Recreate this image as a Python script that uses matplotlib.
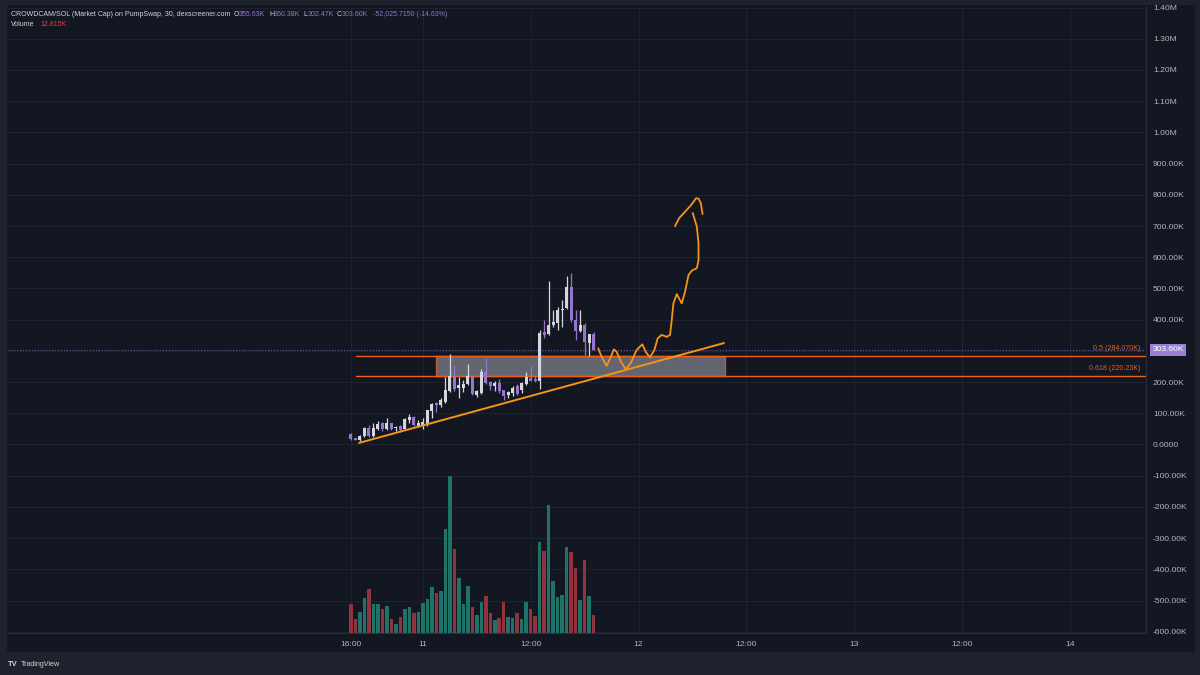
import matplotlib
matplotlib.use('Agg')
from matplotlib import pyplot as plt
from matplotlib.patches import Rectangle
import matplotlib.transforms as mtransforms
import numpy as np

plt.rcParams['font.family'] = ['Liberation Sans', 'DejaVu Sans']

# 30 min candles from 16:00 (day 10), market cap in K
opens = [34, 20, 15, 27, 52, 27, 49, 68, 49, 68, 52, 59, 49, 78, 89, 59, 62, 66, 108, 132,
         127, 137, 172, 217, 180, 182, 194, 219, 159, 166, 231, 201, 187, 198, 175, 159, 164, 187, 175, 194,
         214, 211, 204, 360, 353, 384, 389, 430, 436, 505, 398, 364, 384, 326, 355.63]
highs = [36, 21, 32, 55, 62, 68, 75, 73, 86, 70, 59, 61, 84, 98, 92, 79, 84, 112, 132, 137,
         148, 215, 290, 255, 215, 208, 257, 221, 176, 242, 276, 202, 202, 209, 175, 172, 186, 194, 201, 231,
         252, 219, 366, 400, 523, 432, 441, 464, 540, 551, 430, 432, 388, 355, 360.38]
lows = [15, 13, 12, 25, 23, 23, 47, 42, 47, 48, 44, 40, 47, 70, 59, 55, 49, 59, 84, 105,
        121, 132, 168, 172, 148, 167, 190, 158, 152, 162, 195, 175, 172, 165, 143, 148, 155, 159, 166, 190,
        203, 199, 177, 342, 350, 377, 367, 377, 433, 393, 336, 360, 286, 282, 302.47]
closes = [18, 15, 28, 52, 27, 52, 66, 49, 68, 50, 57, 46, 82, 87, 61, 68, 73, 110, 130, 127,
          143, 175, 219, 177, 190, 193, 219, 161, 170, 231, 198, 188, 198, 172, 156, 167, 180, 162, 198, 217,
          204, 204, 357, 352, 384, 393, 432, 435, 505, 398, 364, 382, 328, 353, 303.60]
volumes = [21.3, 10.4, 15.2, 25.6, 32.1, 20.8, 21.3, 17.2, 19.8, 10.1, 6.8, 11.8, 17.4, 19.1, 14.5,
           15.5, 21.7, 24.9, 33.6, 28.8, 30.7, 75.6, 113.8, 60.9, 40.1, 20.8, 34.1, 18.6, 12.8, 22.5,
           26.6, 14.7, 9.7, 10.6, 22.5, 11.6, 11.1, 14.7, 10.1, 22.5, 17.2, 12.6, 66.2, 59.4, 92.5,
           37.9, 26.1, 27.8, 62.1, 59.0, 47.4, 23.9, 53.2, 26.6, 12.815]

price_ticks = list(range(-600, 1001, 100)) + [1100, 1200, 1300, 1400]
price_labels = ['%.2fK' % v if v != 0 else '0.0000' for v in range(-600, 1001, 100)]
price_labels[-1] = '1.00M'
price_labels += ['1.10M', '1.20M', '1.30M', '1.40M']
time_ticks = [0, 16, 40, 64, 88, 112, 136, 160]
time_labels = ['16:00', '11', '12:00', '12', '12:00', '13', '12:00', '14']

fib_levels = [284.07, 220.23]
fib_labels = ['0.5 (284.070K)', '0.618 (220.23K)']
zone_x = [18.96, 83.2]
trend_x = [1.8, 83.0]
trend_y = [5, 325]
# hand drawn path (bar index, K)
path_x = [55.03, 55.77, 56.88, 57.84, 58.51, 59.11, 60.07, 61.19, 62.30, 63.57, 64.84, 65.58,
          66.54, 67.52, 68.25, 69.14, 70.26, 71.00, 71.38, 71.75, 72.50, 73.61, 74.35, 75.11,
          75.84, 76.96, 77.34, 77.34, 76.96, 76.07]
path_y = [308, 281, 252, 281, 305, 297, 265, 241, 262, 303, 321, 297, 279, 303, 340, 351, 345,
          351, 399, 452, 482, 452, 490, 543, 557, 565, 591, 645, 698, 741]
head_x = [72.12, 73.01, 74.35, 75.69, 76.80, 77.34, 77.85, 78.23]
head_y = [700, 725, 746, 767, 789, 788, 773, 739]

bg = '#131722'
outer = '#1e222d'
up_col = '#d6d7de'
dn_col = '#9575cd'
vol_up = '#1f7267'
vol_dn = '#93323f'
fib_col = '#e8601c'
draw_col = '#f7931a'
txt_col = '#b2b5be'

W, H = 1200, 675
fig = plt.figure(figsize=(12, 6.75), dpi=100, facecolor=outer)
fig.patches.append(Rectangle((7 / W, (H - 652) / H), (1195 - 7) / W, (652 - 5) / H,
                             transform=fig.transFigure, fc=bg, ec='none', zorder=-5))

ax = fig.add_axes([8 / W, (H - 633) / H, (1146 - 8) / W, (633 - 6) / H])
ax.set_facecolor(bg)
ax.set_xlim(-76.3, 176.9)
ax.set_ylim(-604, 1405)

n = len(opens)
idx = np.arange(n)
o = np.array(opens); c = np.array(closes); h = np.array(highs); l = np.array(lows)
cols = [up_col if c[i] >= o[i] else dn_col for i in range(n)]

# volume overlay (twin created first, it flips the main ticks to the left)
axv = ax.twinx()
axv.set_ylim(0, 454.4)
axv.bar(idx, volumes, width=0.78,
        color=[vol_up if c[i] >= o[i] else vol_dn for i in range(n)], zorder=2)
axv.set_yticks([])
for s in axv.spines.values():
    s.set_visible(False)

ax.vlines(idx, l, h, colors=cols, lw=0.9, zorder=3)
ax.bar(idx, np.maximum(np.abs(c - o), 1.5), bottom=np.minimum(o, c), width=0.68,
       color=cols, zorder=4)

# zone + fib lines
ax.add_patch(Rectangle((zone_x[0], fib_levels[1]), zone_x[1] - zone_x[0],
                       fib_levels[0] - fib_levels[1], fc='#787b86', ec=fib_col, lw=1.0,
                       alpha=0.8, zorder=2))
for lev, lab in zip(fib_levels, fib_labels):
    ax.plot([1.1, 176.9], [lev, lev], color=fib_col, lw=1.0, zorder=2.5)
    ax.annotate(lab, xy=(175.6, lev), xytext=(0, 2.5), textcoords='offset points',
                ha='right', va='bottom', color=fib_col, fontsize=5.1)

ax.plot(trend_x, trend_y, color=draw_col, lw=1.4, zorder=5, solid_capstyle='round')
ax.plot(path_x, path_y, color=draw_col, lw=1.3, zorder=5, solid_joinstyle='round')
ax.plot(head_x, head_y, color=draw_col, lw=1.3, zorder=5, solid_joinstyle='round')

# last price line + label
ax.axhline(closes[-1], color=dn_col, lw=0.7, ls=(0, (1, 2)), alpha=0.8, zorder=1)
tr = mtransforms.blended_transform_factory(ax.transAxes, ax.transData)
ax.text(1.0055, closes[-1], '%.2fK' % closes[-1], transform=tr, ha='left', va='center',
        color='white', fontsize=6.1,
        bbox=dict(boxstyle='square,pad=0.3', fc='#9b7fd6', ec='none'))

ax.set_yticks(price_ticks)
ax.set_yticklabels(price_labels)
ax.yaxis.tick_right()
ax.set_xticks(time_ticks)
ax.set_xticklabels(time_labels)
ax.tick_params(axis='both', length=0, colors=txt_col, labelsize=6.1)
ax.tick_params(axis='y', pad=5)
ax.tick_params(axis='x', pad=6)
ax.grid(True, color='#1f2330', lw=0.8, zorder=0)
ax.set_axisbelow(True)
for s in ['top', 'left']:
    ax.spines[s].set_visible(False)
for s in ['right', 'bottom']:
    ax.spines[s].set_color('#2a2e39')
    ax.spines[s].set_linewidth(0.8)

# header
fs = 5.05
row1 = 1 - 15 / H
fig.text(11 / W, row1, 'CROWDCAM/SOL (Market Cap) on PumpSwap, 30, dexscreener.com',
         color='#d1d4dc', fontsize=fs, va='center')
for xp, key, val in [(234, 'O', '355.63K'), (269, 'H', '360.38K'),
                     (303, 'L', '302.47K'), (337, 'C', '303.60K')]:
    fig.text(xp / W, row1, key, color='#d1d4dc', fontsize=fs, va='center')
    fig.text((xp + 5) / W, row1, val, color=dn_col, fontsize=fs, va='center')
fig.text(373 / W, row1, '-52,025.7150 (-14.63%)', color=dn_col, fontsize=fs, va='center')
fig.text(11 / W, 1 - 25 / H, 'Volume', color='#d1d4dc', fontsize=fs, va='center')
fig.text(40 / W, 1 - 25 / H, '12.815K', color='#f23645', fontsize=fs, va='center')

# footer logo
fig.text(8 / W, 1 - 665 / H, 'TV', color='#d1d4dc', fontsize=5.5, fontweight='bold', va='center')
fig.text(21 / W, 1 - 665 / H, 'TradingView', color='#d1d4dc', fontsize=5.1, va='center')

fig.savefig('out.png', dpi=100, facecolor=outer)
